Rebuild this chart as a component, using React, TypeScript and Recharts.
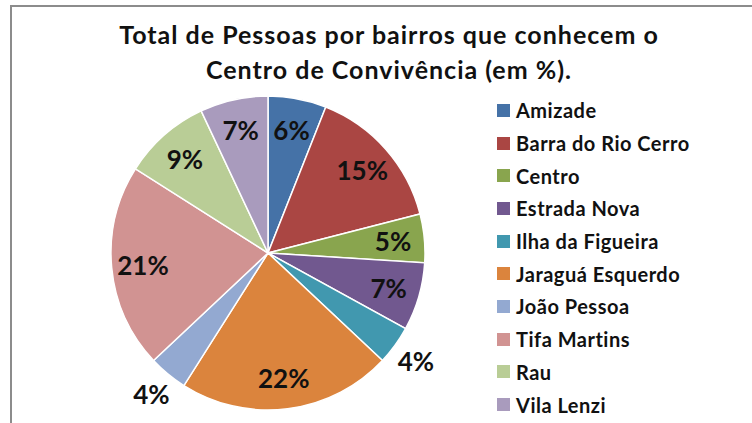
import { PieChart, Pie, Cell, Legend } from 'recharts';

const bairros = [
  'Amizade',
  'Barra do Rio Cerro',
  'Centro',
  'Estrada Nova',
  'Ilha da Figueira',
  'Jaraguá Esquerdo',
  'João Pessoa',
  'Tifa Martins',
  'Rau',
  'Vila Lenzi',
];

const percentuais = [6, 15, 5, 7, 4, 22, 4, 21, 9, 7];

const cores = [
  '#4572A7',
  '#AA4643',
  '#89A54E',
  '#71588F',
  '#4198AF',
  '#DB843D',
  '#93A9D1',
  '#D19392',
  '#B9CD96',
  '#A99BBD',
];

const data = bairros.map((name, i) => ({ name, value: percentuais[i] }));

const RAD = Math.PI / 180;
const font = 'Lato, "Open Sans", sans-serif';

const renderLabel = (props: any) => {
  const { cx, cy, midAngle, outerRadius, value } = props;
  // the small slices carry their label outside the pie
  const r = value <= 4 ? outerRadius * 1.165 : outerRadius * 0.8;
  const x = cx + r * Math.cos(-midAngle * RAD);
  const y = cy + r * Math.sin(-midAngle * RAD);
  return (
    <text
      x={x}
      y={y}
      textAnchor="middle"
      dominantBaseline="central"
      fill="#111"
      fontFamily={font}
      fontWeight={700}
      fontSize={26}
    >
      {value}%
    </text>
  );
};

// legend keeps the original order of the series
const renderLegend = () => (
  <div
    style={{
      fontFamily: font,
      fontWeight: 700,
      fontSize: 20,
      letterSpacing: 0.5,
      color: '#111',
    }}
  >
    {bairros.map((nome, i) => (
      <div key={nome} style={{ display: 'flex', alignItems: 'center', height: 32.7 }}>
        <span
          style={{
            display: 'inline-block',
            width: 13,
            height: 13,
            background: cores[i],
            marginRight: 6,
          }}
        />
        {nome}
      </div>
    ))}
  </div>
);

export default function App() {
  return (
    <div
      style={{
        position: 'absolute',
        left: 0,
        top: 0,
        width: 752,
        height: 423,
        background: '#fff',
        overflow: 'hidden',
      }}
    >
      <div
        style={{
          position: 'absolute',
          left: 10,
          top: 5,
          right: -4,
          bottom: -4,
          borderTop: '2px solid #8c8c8c',
          borderLeft: '2px solid #8c8c8c',
        }}
      />
      <div
        style={{
          position: 'absolute',
          left: 0,
          width: 778,
          top: 17,
          textAlign: 'center',
          fontFamily: font,
          fontWeight: 700,
          fontSize: 25,
          letterSpacing: 1,
          lineHeight: '35px',
          color: '#111',
        }}
      >
        Total de Pessoas por bairros que conhecem o
        <br />
        Centro de Convivência (em %).
      </div>
      <PieChart
        width={752}
        height={423}
        margin={{ top: 0, right: 0, bottom: 0, left: 0 }}
        style={{ position: 'absolute', left: 0, top: 0 }}
      >
        <Pie
          data={data}
          dataKey="value"
          nameKey="name"
          cx={268}
          cy={253}
          outerRadius={157}
          startAngle={90}
          endAngle={-270}
          stroke="#fff"
          strokeWidth={1.5}
          label={renderLabel}
          labelLine={false}
          isAnimationActive={false}
        >
          {data.map((d, i) => (
            <Cell key={d.name} fill={cores[i]} />
          ))}
        </Pie>
        <Legend
          layout="vertical"
          align="right"
          verticalAlign="top"
          content={renderLegend}
          wrapperStyle={{ left: 497, top: 94, width: 250 }}
        />
      </PieChart>
    </div>
  );
}
